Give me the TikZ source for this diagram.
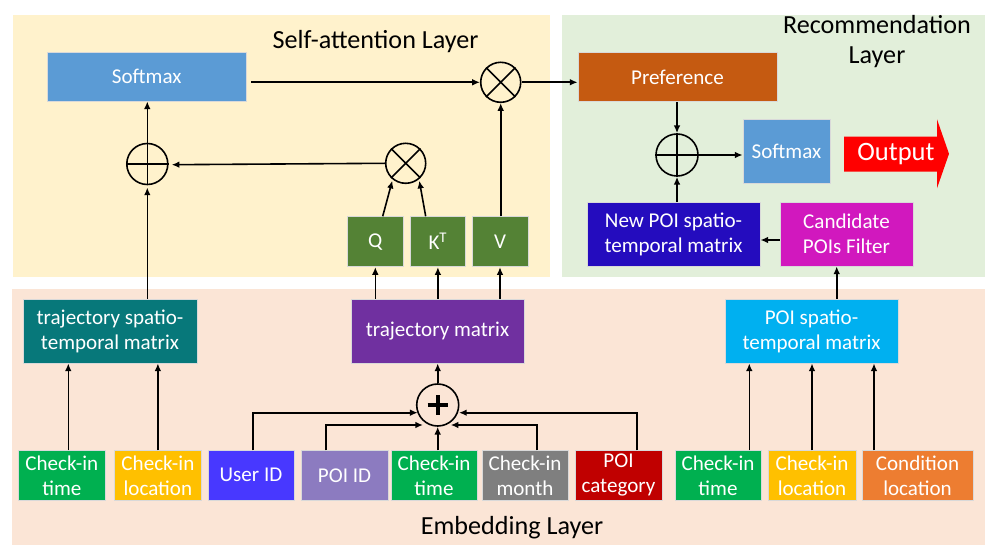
\documentclass[tikz,border=0pt]{standalone}
\usepackage{fontspec}
\setmainfont{Carlito}
\usetikzlibrary{arrows.meta,calc}

% layer backgrounds
\definecolor{layerSA}{HTML}{FFF2CC}
\definecolor{layerRec}{HTML}{E2EFDA}
\definecolor{layerEmb}{HTML}{FBE5D6}
% box fills
\definecolor{cSoft}{HTML}{5B9BD5}
\definecolor{cPref}{HTML}{C55A11}
\definecolor{cNew}{RGB}{36,12,190}
\definecolor{cCand}{RGB}{209,24,190}
\definecolor{cQKV}{HTML}{548235}
\definecolor{cTST}{RGB}{7,120,122}
\definecolor{cTM}{HTML}{7030A0}
\definecolor{cPST}{HTML}{00B0F0}
\definecolor{cTime}{HTML}{00B050}
\definecolor{cLoc}{HTML}{FFC000}
\definecolor{cUser}{RGB}{72,56,255}
\definecolor{cPoi}{RGB}{140,123,192}
\definecolor{cMonth}{HTML}{7F7F7F}
\definecolor{cCat}{HTML}{C00000}
\definecolor{cCond}{HTML}{ED7D31}
\definecolor{cOut}{HTML}{FF0000}

\tikzset{
  box/.style={draw=black!15, line width=0.6pt, text=white, align=center,
    inner sep=0pt, font=\fontsize{15.8}{18.8}\selectfont},
  sz/.style 2 args={minimum width=#1*0.75pt, minimum height=#2*0.75pt},
  op/.style={circle, draw=black, line width=1.2pt, minimum size=#1*1.5pt, inner sep=0pt},
  op/.default=20,
  arr/.style={-{Latex[length=5.8pt,width=5pt]}, line width=1.2pt},
  xmark/.style={line width=1.2pt},
  ttl/.style={font=\fontsize{19.6}{22.5}\selectfont, align=center}
}

\begin{document}
\begin{tikzpicture}[x=0.75pt,y=-0.75pt]

\useasboundingbox (0,0) rectangle (985,545);

% layers
\fill[layerSA]  (13,15)  rectangle (550,277);
\fill[layerRec] (562,15) rectangle (985,277);
\fill[layerEmb] (12,289) rectangle (985,545);

\node[ttl] (tSA)  at (375.6,42) {Self-attention Layer};
\node[ttl] (tRec) at (877,41.5) {Recommendation\\Layer};
\node[ttl] (tEmb) at (512,528) {Embedding Layer};

% self-attention layer
\node[box, fill=cSoft, sz={198.5}{49}] (smx1) at (146.75,76.5) {Softmax};
\node[box, fill=cQKV, sz={56}{50}] (Q) at (375.3,241.7) {Q};
\node[box, fill=cQKV, sz={55.7}{50}] (K) at (437.9,241.7) {K\textsuperscript{T}};
\node[box, fill=cQKV, sz={56}{50}] (V) at (500,241.7) {V};
\node[op] (mtop) at (500.7,82.3) {};
\node[op] (mmid) at (405.7,163.3) {};
\node[op=20.5] (pl1) at (147.3,164) {};
\draw[xmark] (mtop.45) -- (mtop.225) (mtop.135) -- (mtop.315);
\draw[xmark] (mmid.45) -- (mmid.225) (mmid.135) -- (mmid.315);
\draw[xmark] (pl1.west) -- (pl1.east) (pl1.north) -- (pl1.south);

% recommendation layer
\node[box, fill=cPref, sz={199}{49}] (pref) at (677.5,77.2) {Preference};
\node[box, fill=cSoft, sz={87}{64}] (smx2) at (786.5,151) {Softmax};
\node[box, fill=cNew, sz={173}{64}] (newpoi) at (673.5,234) {New POI spatio-\\temporal matrix};
\node[box, fill=cCand, sz={133}{64}] (cand) at (846.5,234) {Candidate\\POIs Filter};
\node[op=21] (pl2) at (677,155) {};
\draw[xmark] (pl2.west) -- (pl2.east) (pl2.north) -- (pl2.south);
\fill[cOut] (844,136.7) -- (937,136.7) -- (937,119.3) -- (949,153.8)
  -- (937,188.3) -- (937,171.7) -- (844,171.7) -- cycle;
\node[text=white, font=\fontsize{19.9}{22}\selectfont] (out) at (896,154) {Output};

% embedding layer
\node[box, fill=cTST, sz={174}{64}] (tst) at (110,331) {trajectory spatio-\\temporal matrix};
\node[box, fill=cTM, sz={173}{64}] (tmat) at (437.5,331) {trajectory matrix};
\node[box, fill=cPST, sz={173}{64}] (pst) at (811.5,331) {POI spatio-\\temporal matrix};
\node[op=21] (pls) at (437.7,405) {};
\draw[line width=3.2pt] ($(pls)+(-10,0)$) -- ($(pls)+(10,0)$)
  ($(pls)+(0,-10)$) -- ($(pls)+(0,10)$);

\node[box, fill=cTime,  sz={87}{49.3}]   (ct1)  at (61.8,475.3)  {Check-in\\time};
\node[box, fill=cLoc,   sz={87.7}{49.3}] (cl1)  at (157.9,475.3) {Check-in\\location};
\node[box, fill=cUser,  sz={86}{49.3}]   (uid)  at (251,475.3)   {User ID};
\node[box, fill=cPoi,   sz={87}{49.3}]   (pid)  at (344.5,475.3) {POI ID};
\node[box, fill=cTime,  sz={86}{49.3}]   (ct2)  at (434,475.3)   {Check-in\\time};
\node[box, fill=cMonth, sz={86}{49.3}]   (cm)   at (525,475.3)   {Check-in\\month};
\node[box, fill=cCat,   sz={87}{49.3}]   (pc)   at (618.5,475.3) {POI\\category};
\node[box, fill=cTime,  sz={86}{49.3}]   (ct3)  at (718,475.3)   {Check-in\\time};
\node[box, fill=cLoc,   sz={88}{49.3}]   (cl3)  at (812,475.3)   {Check-in\\location};
\node[box, fill=cCond,  sz={111}{49.3}]  (cond) at (917.5,475.3) {Condition\\location};

% connector anchor points
\path ($(ct1.north)+(6.5,0)$)   coordinate (u1)
      ($(ct3.north)+(31.3,0)$)  coordinate (u3)
      ($(cond.north)+(-43.5,0)$) coordinate (u4)
      ($(pst.north)+(25.2,0)$)  coordinate (u5);

% self-attention connectors
\draw[arr] ($(smx1.east |- mtop)+(5,0)$) -- (mtop.west);
\draw[arr] (mtop.east) -- (pref.west |- mtop);
\draw[arr] (mtop |- V.north) -- (mtop.south);
\draw[arr] ($(Q.north)+(7.4,0)$) -- ($(mmid)+(-13.4,17.4)$);
\draw[arr] ($(K.north)+(-12.2,0)$) -- ($(mmid)+(13.6,17.4)$);
\draw[arr] (mmid.west) -- ($(pl1)+(24.4,0.7)$);
\draw[arr] (pl1.north) -- (pl1 |- smx1.south);
\draw[arr] (pl1 |- tst.north) -- ($(pl1.south)+(0,2.2)$);

% recommendation connectors
\draw[arr] (pl2 |- pref.south) -- (pl2.north);
\draw[arr] (pl2 |- newpoi.north) -- (pl2.south);
\draw[arr] (pl2.east) -- (smx2.west |- pl2);
\draw[arr] ($(cand.west)+(0,6)$) -- ($(newpoi.east)+(0,6)$);
\draw[arr] (u5) -- (u5 |- cand.south);

% embedding connectors
\draw[arr] (u1) -- (u1 |- tst.south);
\draw[arr] (cl1.north) -- (cl1.north |- tst.south);
\draw[arr] ($(uid.north)+(2,0)$) |- ($(pls)+(-20,7.7)$);
\draw[arr] ($(pid.north)+(-18.5,0)$) |- ($(pls)+(-14.7,20)$);
\draw[arr] (pls |- ct2.north) -- (pls.south);
\draw[arr] ($(cm.north)+(12,0)$) |- ($(pls)+(13,20)$);
\draw[arr] ($(pc.north)+(18.5,0)$) |- ($(pls)+(21.3,7.7)$);
\draw[arr] (pls.north) -- (pls |- tmat.south);
\draw[arr] (Q |- tmat.north) -- (Q.south);
\draw[arr] (K |- tmat.north) -- (K.south);
\draw[arr] (V |- tmat.north) -- (V.south);
\draw[arr] (u3) -- (u3 |- pst.south);
\draw[arr] (cl3.north) -- (cl3.north |- pst.south);
\draw[arr] (u4) -- (u4 |- pst.south);
\end{tikzpicture}
\end{document}
